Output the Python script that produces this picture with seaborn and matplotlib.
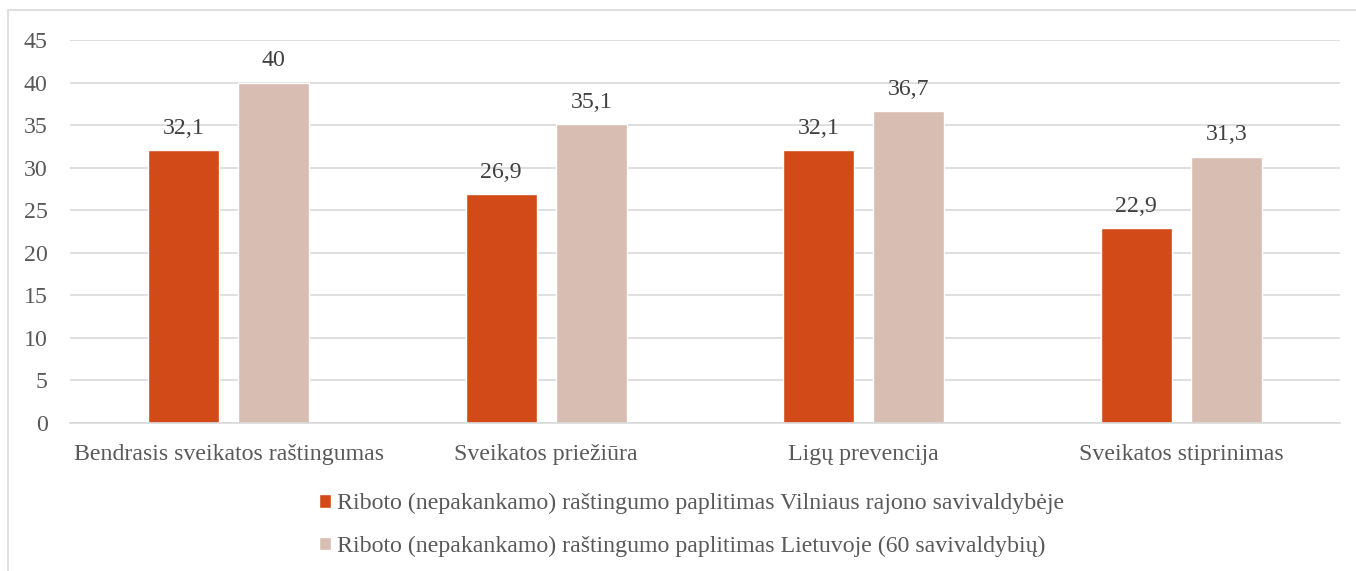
import matplotlib
matplotlib.use("Agg")
import matplotlib.pyplot as plt
import seaborn as sns
import pandas as pd
from matplotlib.patches import Rectangle

# Data
categories = ["Bendrasis sveikatos raštingumas", "Sveikatos priežiūra",
              "Ligų prevencija", "Sveikatos stiprinimas"]
vilnius_raj = [32.1, 26.9, 32.1, 22.9]
lietuva = [40, 35.1, 36.7, 31.3]
series_names = ["Riboto (nepakankamo) raštingumo paplitimas Vilniaus rajono savivaldybėje",
                "Riboto (nepakankamo) raštingumo paplitimas Lietuvoje (60 savivaldybių)"]
colors = ["#D24A17", "#D8BDB3"]

df = pd.DataFrame({
    "kategorija": categories * 2,
    "reiksme": vilnius_raj + lietuva,
    "serija": [series_names[0]] * 4 + [series_names[1]] * 4,
})

sns.set_style("white")
plt.rcParams["font.family"] = ["Liberation Serif", "DejaVu Serif"]
txt = "#595959"
fs = 17.2

fig = plt.figure(figsize=(13.56, 5.71), dpi=100)
fig.patches.append(Rectangle((8 / 1356, -0.1), 1.2, 1.1 - 10 / 571, transform=fig.transFigure,
                             fill=False, edgecolor="#D9D9D9", linewidth=1.2))
ax = fig.add_axes([70 / 1356, 1 - 423 / 571, 1270 / 1356, 383 / 571])

sns.barplot(data=df, x="kategorija", y="reiksme", hue="serija", palette=colors,
            width=0.567, gap=0.21, saturation=1, ax=ax, legend=True)

for cont in ax.containers:
    ax.bar_label(cont, labels=[f"{b.get_height():g}".replace(".", ",") for b in cont],
                 padding=8, fontsize=fs, color="#404040")

ax.set_ylim(0, 45)
ax.set_yticks(range(0, 50, 5))
ax.yaxis.grid(True, color="#D9D9D9", linewidth=1.2)
ax.set_axisbelow(True)
for s in ["left", "right", "top"]:
    ax.spines[s].set_visible(False)
ax.spines["bottom"].set_color("#D9D9D9")
ax.spines["bottom"].set_linewidth(1.2)
ax.tick_params(axis="both", length=0, labelsize=fs, labelcolor=txt)
ax.tick_params(axis="y", pad=16)
ax.tick_params(axis="x", pad=15)
ax.set_xlabel("")
ax.set_ylabel("")

handles, labels = ax.get_legend_handles_labels()
ax.get_legend().remove()
fig.legend(handles, labels, loc="center", bbox_to_anchor=(692 / 1356, 1 - 525 / 571),
           ncol=1, frameon=False, fontsize=fs, labelcolor=txt,
           handlelength=0.5, handleheight=0.5, handletextpad=0.25, labelspacing=0.9)

fig.savefig("out.png", dpi=100)
